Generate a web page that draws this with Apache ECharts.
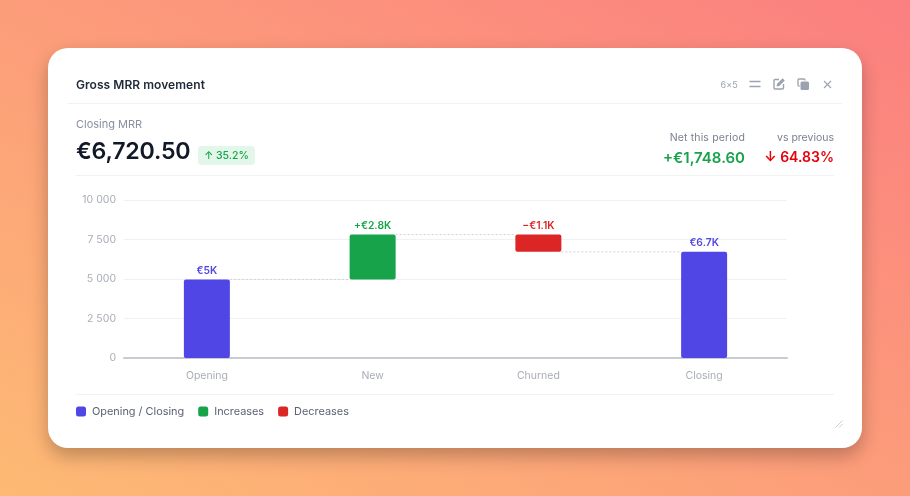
<!DOCTYPE html>
<html><head><meta charset="utf-8">
<script src="https://cdn.jsdelivr.net/npm/echarts@6/dist/echarts.min.js"></script>
<style>
html,body{margin:0;padding:0;width:910px;height:496px;overflow:hidden;font-family:Inter,sans-serif}
body{background:linear-gradient(to top right,#fdba74,#fb7f80);position:relative}
.card{position:absolute;left:48px;top:48px;width:814px;height:400px;background:#fff;border-radius:20px;box-shadow:0 8px 18px rgba(0,0,0,.25)}
.abs{position:absolute;white-space:nowrap;line-height:1}
.rule{position:absolute;height:1px;background:#f1f2f4}
#chart{position:absolute;left:0;top:0;width:814px;height:400px}
</style></head><body>
<div class="card">
<div id="chart"></div>
<div class="abs" style="left:28px;top:31px;font-size:12px;font-weight:600;color:#1f2937;letter-spacing:.05px">Gross MRR movement</div>
<div class="abs" style="right:124px;top:32px;font-size:9px;color:#9ca3af;letter-spacing:.2px">6×5</div>
<svg class="abs" style="left:700px;top:30px" width="14" height="12" viewBox="0 0 14 12" fill="none" stroke="#9ca3af" stroke-width="1.3"><path d="M1.5 3.5h11M1.5 8.5h11"/></svg>
<svg class="abs" style="left:725px;top:30px" width="12" height="12" viewBox="0 0 12 12" fill="none" stroke="#9ca3af" stroke-width="1.4"><path d="M6 1.5H2a1 1 0 0 0-1 1v7.5a1 1 0 0 0 1 1h7.5a1 1 0 0 0 1-1V6"/><path d="M3.5 8.5l.6-2.8L9.6.2l2.2 2.2L6.3 8z" fill="#9ca3af" stroke="none"/></svg>
<svg class="abs" style="left:749px;top:30px" width="12" height="12" viewBox="0 0 12 12"><rect x="3.5" y="3.5" width="8.5" height="8.5" rx="1.5" fill="#9ca3af"/><path d="M8 2.5V2a1 1 0 0 0-1-1H2a1 1 0 0 0-1 1v5a1 1 0 0 0 1 1h.6" fill="none" stroke="#9ca3af" stroke-width="1.3"/></svg>
<svg class="abs" style="left:775px;top:32px" width="9" height="9" viewBox="0 0 9 9" fill="none" stroke="#9ca3af" stroke-width="1.1"><path d="M1 1l7 7M8 1L1 8"/></svg>
<div class="rule" style="left:20px;top:55px;width:774px"></div>
<div class="abs" style="left:28px;top:71px;font-size:11px;color:#8b90a0">Closing MRR</div>
<div class="abs" style="left:28px;top:92px;font-size:23.2px;font-weight:600;color:#111827;letter-spacing:-.2px">€6,720.50</div>
<div class="abs" style="left:150px;top:98px;width:57px;height:19px;border-radius:4px;background:#e2f7e9;color:#16a34a;font-size:10.5px;line-height:20px;text-align:center;font-weight:500">↑ 35.2%</div>
<div class="abs" style="right:117px;top:85px;font-size:10.5px;color:#7b8190;letter-spacing:.15px">Net this period</div>
<div class="abs" style="right:117px;top:102px;font-size:15px;font-weight:600;color:#16a34a">+€1,748.60</div>
<div class="abs" style="right:28px;top:85px;font-size:10.5px;color:#7b8190">vs previous</div>
<div class="abs" style="right:28px;top:102px;font-size:14px;font-weight:600;color:#e7000b">↓ 64.83%</div>
<div class="rule" style="left:28px;top:127px;width:758px"></div>
<div class="rule" style="left:28px;top:346px;width:758px"></div>
<svg class="abs" style="left:787px;top:372px" width="8" height="8" viewBox="0 0 8 8" stroke="#c9ced6" stroke-width="1" fill="none"><path d="M0.5 7.5L7.5 0.5M4 7.5L7.5 4"/></svg>
</div>
<script>
const categories = ['Opening','New','Churned','Closing'];
const baseValues = [0, 4971.9, 6720.5, 0];
const totalValues = [4971.9, null, null, 6720.5];
const increaseValues = [null, 2840, null, null];
const decreaseValues = [null, null, 1091.4, null];
const connectorLevels = [4971.9, 7811.9, 6720.5];
const barLabels = ['€5K','+€2.8K','−€1.1K','€6.7K'];
const yTicks = {min:0,max:10000,interval:2500};
const colors = {total:'#4f46e5',up:'#16a34a',down:'#dc2626'};
const BAR_W = 46;

function lab(color){return {show:true,position:'top',distance:4,fontFamily:'Inter',fontSize:10.3,fontWeight:600,color,
  formatter:p=>barLabels[p.dataIndex]};}
function barSeries(name,data,color){return {name,type:'bar',stack:'w',barWidth:BAR_W,data,
  itemStyle:{color,borderRadius:2},label:lab(color),emphasis:{disabled:true}};}

const chart = echarts.init(document.getElementById('chart'),null,{renderer:'canvas'});
chart.setOption({
  animation:false,
  grid:{left:76,right:75,top:152,height:158,containLabel:false},
  legend:{left:28,top:358,padding:0,itemWidth:10,itemHeight:10,itemGap:14,icon:'roundRect',selectedMode:false,
    textStyle:{fontFamily:'Inter',fontSize:10.9,color:'#5b6272',padding:[0,0,0,1]},
    data:['Opening / Closing','Increases','Decreases']},
  xAxis:{type:'category',data:categories,axisTick:{show:false},
    axisLine:{lineStyle:{color:'#c9cbd0',width:2}},
    axisLabel:{fontFamily:'Inter',fontSize:10.5,color:'#a9adb8',margin:12}},
  yAxis:{type:'value',min:yTicks.min,max:yTicks.max,interval:yTicks.interval,
    axisLine:{show:false},axisTick:{show:false},
    splitLine:{lineStyle:{color:'#f0f1f3',width:1}},
    axisLabel:{fontFamily:'Inter',fontSize:10.5,color:'#a9adb8',margin:8,padding:[4,0,0,0],
      formatter:v=>String(v).replace(/\B(?=(\d{3})+$)/g,' ')}},
  series:[
    {name:'base',type:'bar',stack:'w',barWidth:BAR_W,data:baseValues,itemStyle:{color:'transparent'},silent:true},
    barSeries('Opening / Closing',totalValues,colors.total),
    barSeries('Increases',increaseValues,colors.up),
    barSeries('Decreases',decreaseValues,colors.down),
    {name:'connectors',type:'custom',silent:true,z:1,data:connectorLevels.map((v,i)=>[i,v]),
      renderItem(params,api){
        const i=api.value(0),v=api.value(1);
        const a=api.coord([i,v]),b=api.coord([i+1,v]);
        return {type:'line',shape:{x1:a[0]+BAR_W/2,y1:a[1],x2:b[0]-BAR_W/2,y2:b[1]},
          style:{stroke:'#cfd3da',lineWidth:1,lineDash:[2,2]}};
      }}
  ]
});
</script>
</body></html>
